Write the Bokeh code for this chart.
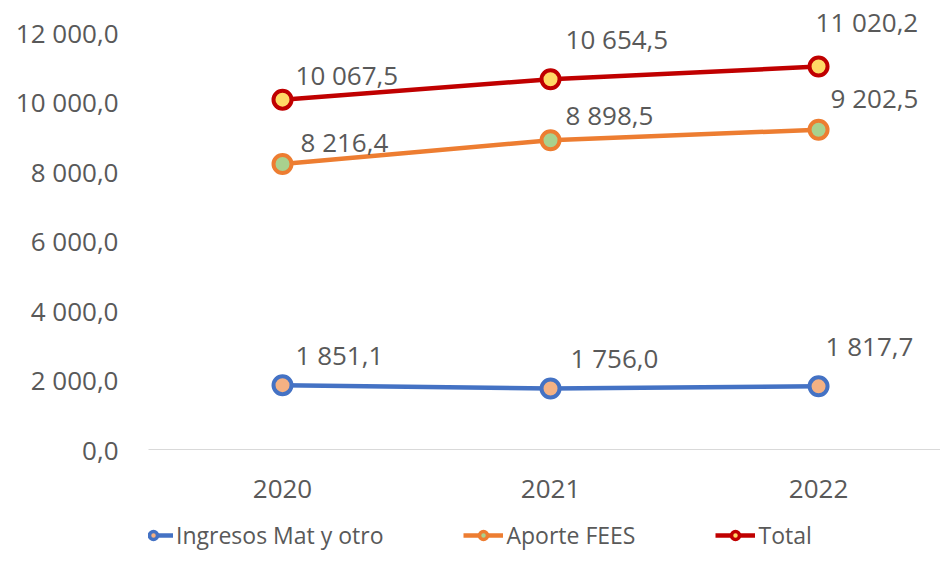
from bokeh.plotting import figure
from bokeh.layouts import column
from bokeh.models import Legend, LegendItem, ColumnDataSource, FixedTicker, Range1d
from bokeh.core.properties import value
from bokeh.embed import file_html
from bokeh.resources import INLINE

# ---- data ----
years = [2020, 2021, 2022]
ingresos = [1851.1, 1756.0, 1817.7]
aporte = [8216.4, 8898.5, 9202.5]
total = [10067.5, 10654.5, 11020.2]
series_names = ["Ingresos Mat y otro", "Aporte FEES", "Total"]
y_ticks = [0, 2000, 4000, 6000, 8000, 10000, 12000]

# ---- styles ----
FONT = "Open Sans"
TXT = "#595959"
NUM_SIZE = "26px"
line_colors = ["#4472C4", "#ED7D31", "#C00000"]
fill_colors = ["#F4B183", "#A9D18E", "#FFD966"]
# per-label pixel offsets (style only)
label_dx = [[13, 20, 7], [18, 15, 12], [13, 15, -3]]
label_dy = [[-30, -30, -40], [-22, -25, -32], [-25, -40, -45]]


def fmt(v):
    return f"{v:,.1f}".replace(",", " ").replace(".", ",")


p = figure(width=940, height=512, frame_width=792, frame_height=449,
           output_backend="svg", toolbar_location=None,
           x_range=Range1d(2019.5, 2022.455), y_range=Range1d(0, 12921),
           min_border_left=148, min_border_right=0, min_border_top=0, min_border_bottom=0)
p.outline_line_color = None
p.background_fill_color = "white"
p.border_fill_color = "white"
p.xgrid.visible = False
p.ygrid.visible = False

# y axis
p.yaxis.ticker = FixedTicker(ticks=y_ticks)
p.yaxis.major_label_overrides = {t: fmt(t) for t in y_ticks}
p.yaxis.axis_line_color = None
p.yaxis.major_tick_line_color = None
p.yaxis.minor_tick_line_color = None
p.yaxis.major_label_standoff = 24
p.yaxis.major_label_text_font = FONT
p.yaxis.major_label_text_font_size = NUM_SIZE
p.yaxis.major_label_text_color = TXT

# x axis
p.xaxis.ticker = FixedTicker(ticks=years)
p.xaxis.major_label_overrides = {y: str(y) for y in years}
p.xaxis.axis_line_color = "#D9D9D9"
p.xaxis.axis_line_width = 1
p.xaxis.major_tick_line_color = None
p.xaxis.minor_tick_line_color = None
p.xaxis.major_label_standoff = 24
p.xaxis.major_label_text_font = FONT
p.xaxis.major_label_text_font_size = NUM_SIZE
p.xaxis.major_label_text_color = TXT

# legend-only strip below the chart (its renderers lie outside its visible range)
lg = figure(width=940, height=51, output_backend="svg", toolbar_location=None,
            x_axis_type=None, y_axis_type=None,
            x_range=Range1d(0, 1), y_range=Range1d(0, 1),
            min_border_left=0, min_border_right=0, min_border_top=0, min_border_bottom=0)
lg.outline_line_color = None
lg.xgrid.visible = False
lg.ygrid.visible = False

items = []
for i, (name, vals) in enumerate(zip(series_names, [ingresos, aporte, total])):
    src = ColumnDataSource(dict(x=years, y=vals, lbl=[fmt(v) for v in vals],
                                dx=label_dx[i], dy=label_dy[i]))
    p.line("x", "y", source=src, line_color=line_colors[i], line_width=4.5)
    p.scatter("x", "y", source=src, size=18, marker="circle",
              fill_color=fill_colors[i], line_color=line_colors[i], line_width=4)
    p.text("x", "y", text="lbl", source=src, x_offset="dx", y_offset="dy",
           text_font=value(FONT), text_font_size=NUM_SIZE, text_color=TXT,
           text_align="left", text_baseline="middle")
    lr = lg.line("x", "y", source=src, line_color=line_colors[i], line_width=4.5)
    sr = lg.scatter("x", "y", source=src, size=14, marker="circle",
                    fill_color=fill_colors[i], line_color=line_colors[i], line_width=3.5)
    items.append(LegendItem(label=name, renderers=[lr, sr]))

legend = Legend(items=items, orientation="horizontal", location=(-15, 0),
                spacing=80, glyph_width=40, glyph_height=20, label_standoff=3,
                label_text_font=FONT, label_text_font_size="23px", label_text_color=TXT,
                border_line_color=None, background_fill_alpha=0, padding=0, margin=0)
lg.add_layout(legend, "center")

layout = column(p, lg, spacing=0)
open("out.html", "w").write(file_html(layout, INLINE))
